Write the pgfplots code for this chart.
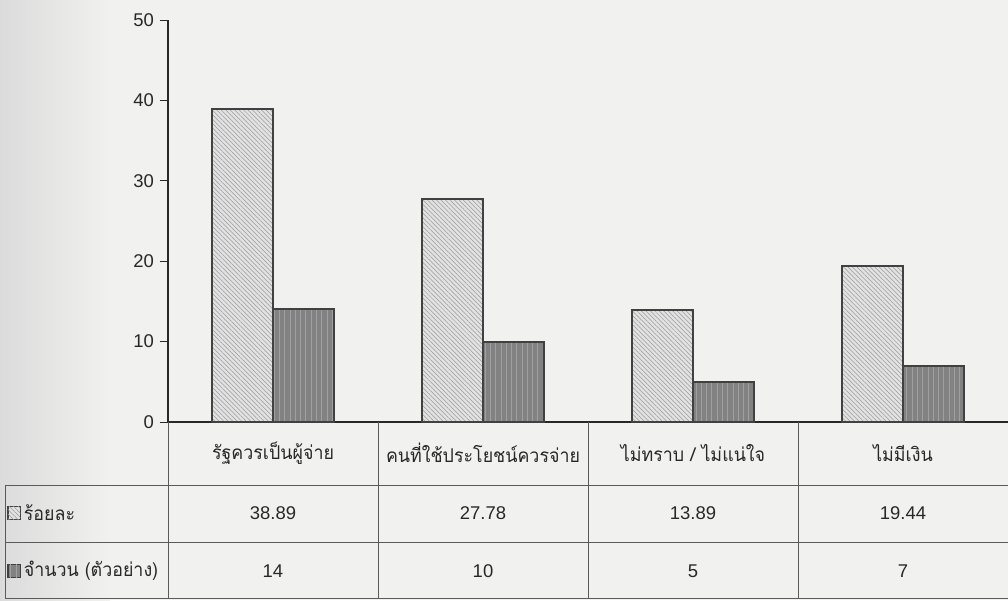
\documentclass[border=0pt]{standalone}
\usepackage{pgfplots}
\pgfplotsset{compat=1.18}
\usetikzlibrary{patterns.meta}
\usepackage{fontspec}
\setmainfont{Liberation Sans}
\newfontfamily\thaifont[Script=Thai,FakeStretch=0.94]{Loma}

\definecolor{paper}{RGB}{241,241,239}
\definecolor{ink}{RGB}{40,40,40}
\definecolor{lightbar}{RGB}{226,226,226}
\definecolor{hatch}{RGB}{155,155,155}
\definecolor{darkbar}{RGB}{130,130,130}
\definecolor{streak}{RGB}{160,160,160}
\definecolor{edge}{RGB}{65,65,65}
\definecolor{rule}{RGB}{90,90,90}

\tikzset{
  lightfill/.style={fill=lightbar, draw=edge, line width=1.1pt,
    postaction={pattern={Lines[angle=-45,distance=1.8pt,line width=0.3pt]}, pattern color=hatch}},
  darkfill/.style={fill=darkbar, draw=edge, line width=1.1pt,
    postaction={pattern={Lines[angle=90,distance=3pt,line width=0.35pt]}, pattern color=streak}},
  rule/.style={draw=rule, line width=0.5pt},
  thai/.style={text=ink, font=\thaifont\fontsize{10.8}{12}\selectfont},
  num/.style={text=ink, font=\fontsize{10.5}{12}\selectfont},
}

\begin{document}
\begin{tikzpicture}
\fill[paper] (0,0) rectangle (20.16,12);
\shade[left color=black!14, right color=paper] (0,0) rectangle (2.2,12);
\useasboundingbox (0,0) rectangle (20.16,12);

\begin{axis}[
  at={(3.36cm,3.56cm)}, anchor=south west,
  scale only axis, width=16.8cm, height=8.04cm,
  xmin=-0.5, xmax=3.5, ymin=0, ymax=50,
  axis lines=left,
  axis line style={-, ink, line width=0.6pt},
  xtick=\empty,
  ytick={0,10,...,50},
  tick align=outside,
  major tick length=0.16cm,
  tick style={ink, line width=0.5pt},
  /pgf/number format/assume math mode=true,
  yticklabel style={font=\fontsize{10.5}{12}\selectfont, text=ink},
  ybar=0pt, bar width=0.29,
  clip=false,
]
\addplot[lightfill] coordinates {(0,38.89) (1,27.78) (2,13.89) (3,19.44)};
\addplot[darkfill] coordinates {(0,14) (1,10) (2,5) (3,7)};

% data table under the plot
\draw[rule] (axis cs:-1.276,-7.84) -- (axis cs:3.5,-7.84);
\draw[rule] (axis cs:-1.276,-14.93) -- (axis cs:3.5,-14.93);
\draw[rule] (axis cs:-1.276,-21.9) -- (axis cs:3.5,-21.9);
\draw[rule] (axis cs:-1.276,-7.84) -- (axis cs:-1.276,-21.9);
\draw[rule] (axis cs:-0.5,0) -- (axis cs:-0.5,-21.9);
\draw[rule] (axis cs:0.5,0) -- (axis cs:0.5,-21.9);
\draw[rule] (axis cs:1.5,0) -- (axis cs:1.5,-21.9);
\draw[rule] (axis cs:2.5,0) -- (axis cs:2.5,-21.9);

\node[thai] at (axis cs:0,-3.86) {รัฐควรเป็นผู้จ่าย};
\node[thai] at (axis cs:1,-3.86) {คนที่ใช้ประโยชน์ควรจ่าย};
\node[thai] at (axis cs:2,-3.86) {ไม่ทราบ / ไม่แน่ใจ};
\node[thai] at (axis cs:3,-3.86) {ไม่มีเงิน};

\node[num] at (axis cs:0,-11.3) {38.89};
\node[num] at (axis cs:1,-11.3) {27.78};
\node[num] at (axis cs:2,-11.3) {13.89};
\node[num] at (axis cs:3,-11.3) {19.44};

\node[num] at (axis cs:0,-18.5) {14};
\node[num] at (axis cs:1,-18.5) {10};
\node[num] at (axis cs:2,-18.5) {5};
\node[num] at (axis cs:3,-18.5) {7};

% series keys in the first column
\draw[lightfill, line width=0.6pt] (axis cs:-1.262,-10.5) rectangle (axis cs:-1.203,-12.1);
\draw[darkfill, line width=0.6pt] (axis cs:-1.262,-17.7) rectangle (axis cs:-1.203,-19.3);
\node[thai, anchor=west, inner sep=0pt] at (axis cs:-1.188,-11.3) {ร้อยละ};
\node[thai, anchor=west, inner sep=0pt] at (axis cs:-1.188,-18.5) {จำนวน (ตัวอย่าง)};
\end{axis}
\end{tikzpicture}
\end{document}
